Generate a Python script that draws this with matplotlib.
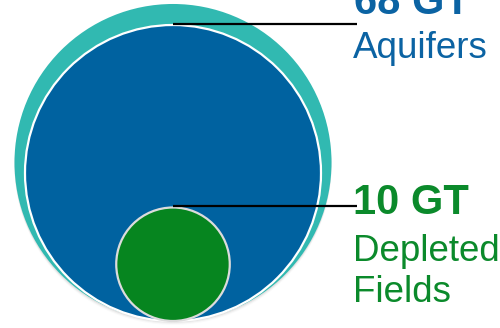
import matplotlib.pyplot as plt
from matplotlib.patches import Circle
import numpy as np

plt.rcParams["font.family"] = ["Liberation Sans", "DejaVu Sans"]

# storage capacity, gigatonnes
names = ["Aquifers", "Depleted\nFields"]
values = [68, 10]
total = sum(values)
labels = [f"{v} GT" for v in values]

teal = "#31b9b1"
colors = ["#0062a0", "#06851f"]
text_colors = ["#0b63a3", "#0b8a2b"]
edges = ["white", "#dcdcdc"]

fig = plt.figure(figsize=(5, 3.28), dpi=100)
ax = fig.add_axes([0, 0, 1, 1])
ax.set_xlim(0, 500)
ax.set_ylim(328, 0)
ax.set_aspect("equal")
ax.axis("off")

# radius proportional to sqrt of the value, all circles sit on one baseline
k = 148 / np.sqrt(values[0])
cx, base = 173, 321


def radius(v):
    return k * np.sqrt(v)


# faint shadow under the bottom of the group
r_tot = radius(total)
for i, a in enumerate([0.06, 0.04, 0.02]):
    ax.add_patch(Circle((cx, base - r_tot + 1.5 + 1.2 * i), r_tot,
                        color="#000000", alpha=a, lw=0, zorder=0))

ax.add_patch(Circle((cx, base - r_tot), r_tot, color=teal, lw=0, zorder=1))

for i, v in enumerate(values):
    r = radius(v)
    ax.add_patch(Circle((cx, base - r), r, facecolor=colors[i],
                        edgecolor=edges[i], lw=1.6, zorder=2 + i))
    top = base - 2 * r
    ax.plot([cx, 357], [top - 1, top - 1], color="black", lw=1.6,
            solid_capstyle="butt", zorder=5)

# annotation text
ax.text(354, 14, labels[0], color=text_colors[0], fontsize=30,
        fontweight="bold", va="baseline")
ax.text(353, 58, names[0], color=text_colors[0], fontsize=26.5, va="baseline")
ax.text(353, 214, labels[1], color=text_colors[1], fontsize=30,
        fontweight="bold", va="baseline")
ax.text(353, 261, names[1].split("\n")[0], color=text_colors[1], fontsize=26.5,
        va="baseline")
ax.text(353, 302, names[1].split("\n")[1], color=text_colors[1], fontsize=26.5,
        va="baseline")

fig.savefig("out.png", dpi=100)
